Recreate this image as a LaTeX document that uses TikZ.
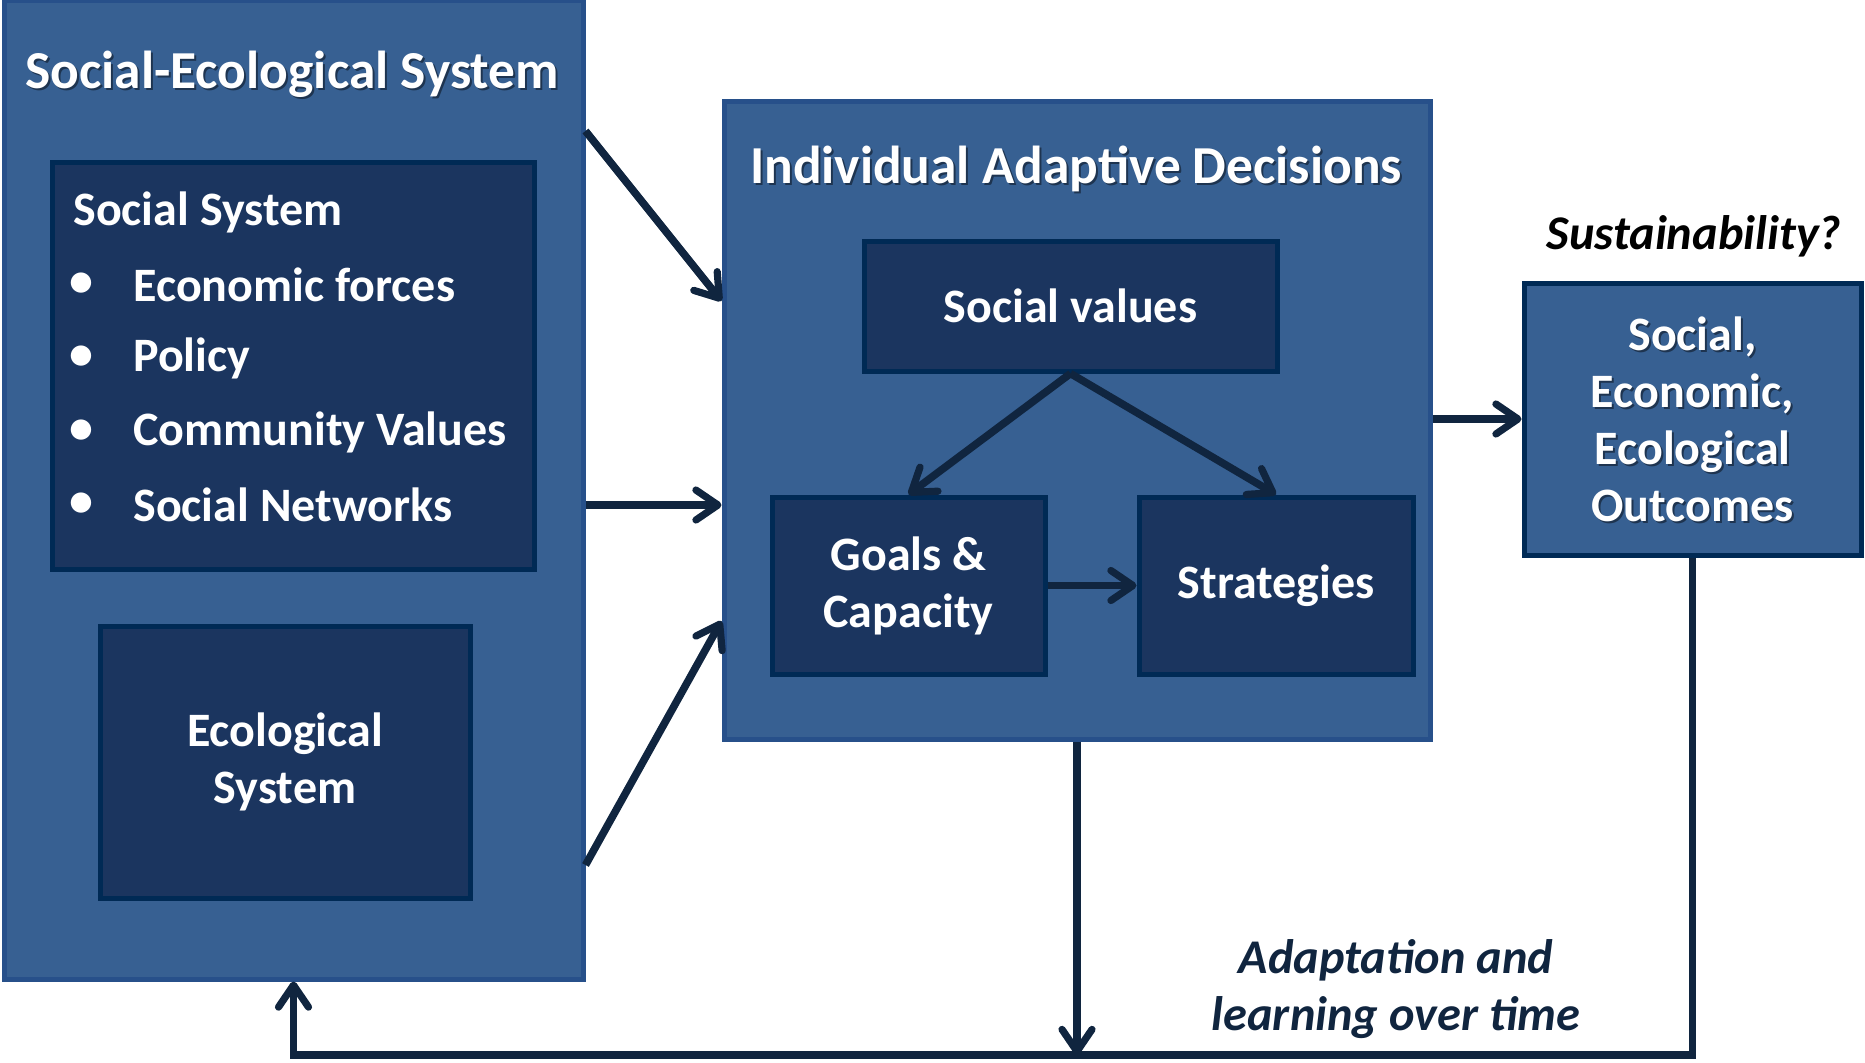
\documentclass[tikz,border=0pt]{standalone}
\usepackage{fontspec}
\setmainfont{Carlito}
\usetikzlibrary{arrows.meta,calc}
\definecolor{outerfill}{HTML}{376092}
\definecolor{outerdraw}{HTML}{27508A}
\definecolor{innerfill}{HTML}{1B355F}
\definecolor{innerdraw}{HTML}{002A55}
\definecolor{conn}{HTML}{10253F}
\begin{document}
\begin{tikzpicture}[x=0.5pt,y=-0.5pt,
  outerbox/.style={draw=outerdraw,line width=2.5pt,fill=outerfill,inner sep=0pt},
  innerbox/.style={draw=innerdraw,line width=2.5pt,fill=innerfill,inner sep=0pt,text=white,
     font=\bfseries\fontsize{24}{28.5}\selectfont,align=center},
  titletext/.style={text=white,font=\bfseries\fontsize{26.7}{30}\selectfont,inner sep=0pt},
  outtext/.style={text=white,font=\bfseries\fontsize{24}{28.5}\selectfont,inner sep=0pt,align=center},
  shadow/.style={text=black,text opacity=0.45},
  itemtext/.style={text=white,font=\bfseries\fontsize{24}{28}\selectfont,inner sep=0pt,anchor=west},
  conn/.style={draw=conn,line width=3.8pt,-{Straight Barb[round,length=11pt,width=15pt,line width=3.6pt]}},
  note/.style={font=\bfseries\itshape\fontsize{24.2}{28.5}\selectfont,inner sep=0pt,align=center}]
\useasboundingbox (0,0) rectangle (1865,1062);
% outer boxes
\node[outerbox,minimum width=579*0.5pt,minimum height=979*0.5pt] (ses) at (293.5,489.5) {};
\node[outerbox,minimum width=706*0.5pt,minimum height=638*0.5pt] (iad) at (1077,420) {};
\node[outerbox,draw=innerdraw,minimum width=337*0.5pt,minimum height=272*0.5pt] (out) at (1692.5,419) {};
% titles with soft shadow
\node[titletext,shadow] (sestitlesh) at (294,76) {Social-Ecological System};
\node[titletext] (sestitle) at (292,74) {Social-Ecological System};
\node[titletext,shadow] (iadtitlesh) at (1078,171) {Individual Adaptive Decisions};
\node[titletext] (iadtitle) at (1076,169) {Individual Adaptive Decisions};
\node[outtext,shadow] (outtextsh) at (1694.5,421) {Social,\\Economic,\\Ecological\\Outcomes};
\node[outtext] (outtext) at (1692.5,419) {Social,\\Economic,\\Ecological\\Outcomes};
% social system
\node[innerbox,minimum width=482*0.5pt,minimum height=407*0.5pt] (soc) at (293,365.5) {};
\node[itemtext] (soctitle) at (73,212) {Social System};
\node[itemtext,anchor=center] (b1) at (81,285) {•};
\node[itemtext,anchor=center] (b2) at (81,358) {•};
\node[itemtext,anchor=center] (b3) at (81,432) {•};
\node[itemtext,anchor=center] (b4) at (81,505) {•};
\node[itemtext] (i1) at (133,285) {Economic forces};
\node[itemtext] (i2) at (133,358) {Policy};
\node[itemtext] (i3) at (133,432) {Community Values};
\node[itemtext] (i4) at (133,505) {Social Networks};
% ecological
\node[innerbox,minimum width=370*0.5pt,minimum height=272*0.5pt] (eco) at (285,762) {Ecological\\System};
% IAD inner
\node[innerbox,minimum width=413*0.5pt,minimum height=130*0.5pt] (sv) at (1070.5,306) {Social values};
\node[innerbox,minimum width=273*0.5pt,minimum height=177*0.5pt] (gc) at (908.5,585.5) {Goals \&\\Capacity};
\node[innerbox,minimum width=274*0.5pt,minimum height=177*0.5pt] (st) at (1276,585.5) {Strategies};
% notes
\node[note] (sus) at (1694,236) {Sustainability?};
\node[note,text=conn] (adapt) at (1396,989) {Adaptation and\\learning over time};
% connectors
\draw[conn] (ses.east |- 0,131) -- (iad.west |- 0,301);
\draw[conn] (ses.east |- 0,505) -- (iad.west |- 0,505);
\draw[conn] (ses.east |- 0,865) -- (iad.west |- 0,621);
\draw[conn] (sv.south) -- (gc.north);
\draw[conn] (sv.south) -- (st.north);
\draw[conn] (gc.east) -- (st.west);
\draw[conn] (iad.east |- out.west) -- (out.west);
\coordinate (floor) at (0,1055);
\draw[conn] (iad.south) -- (iad.south |- floor);
\draw[conn] (out.south) |- (ses.south |- floor) -- (ses.south);
\end{tikzpicture}
\end{document}
